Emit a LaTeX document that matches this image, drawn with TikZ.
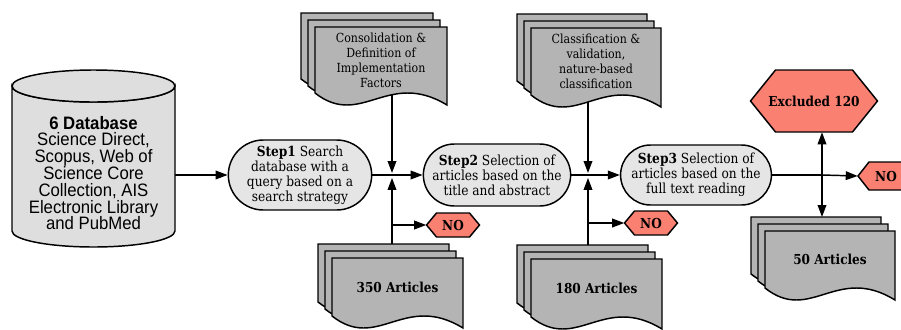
\documentclass[tikz,border=0pt]{standalone}
\usepackage{fontspec}
\setmainfont{DejaVu Serif}[FakeStretch=0.88]
\setsansfont{Liberation Sans}[FakeStretch=0.93]
\usepackage{xcolor}
\usetikzlibrary{calc,arrows.meta,shapes.misc,backgrounds}

\definecolor{docgray}{RGB}{180,180,180}
\definecolor{stepgray}{RGB}{229,229,229}
\definecolor{dbgray}{RGB}{222,222,222}
\definecolor{nosalmon}{RGB}{250,128,114}

\tikzset{
  flow/.style={line width=1.1pt,-{Triangle[length=9pt,width=6.5pt]}},
  link/.style={line width=1.1pt},
  docsheet/.style={draw,line width=1.1pt,fill=docgray},
  doctext/.style={font=\fontsize{9.4}{11.25}\selectfont,align=center,inner sep=0pt},
  stepbox/.style={rounded rectangle,draw,line width=1.1pt,fill=stepgray,align=center,
    font=\fontsize{10.4}{11.25}\selectfont,inner xsep=1pt,inner ysep=1pt},
  hexshape/.style={draw,line width=1.1pt,fill=nosalmon},
  hextext/.style={font=\bfseries\fontsize{10.3}{12}\selectfont,inner sep=0pt},
}

% stack of three sheets: name, x, y (front sheet top left), width, height, text
\newcommand{\docstack}[6]{%
  \foreach \lay in {2,1,0}{
    \draw[docsheet] ({#2-7*\lay},{#3-7*\lay}) -- ({#2-7*\lay+#4},{#3-7*\lay})
      -- ({#2-7*\lay+#4},{#3-7*\lay+#5+12})
      .. controls ({#2-7*\lay+0.55*#4},{#3-7*\lay+#5-24}) and ({#2-7*\lay+0.35*#4},{#3-7*\lay+#5+36})
      .. ({#2-7*\lay},{#3-7*\lay+#5}) -- cycle;
  }
  \node[doctext,minimum width=#4*0.75pt,minimum height=#5*0.75pt] (#1) at ({#2+#4/2},{#3+#5/2}) {#6};
  \coordinate (#1top) at ({#2+#4/2-7},{#3-14});
}

% hexagon: name, x, y (centre), width, height, inset, text
\newcommand{\hexnode}[7]{%
  \draw[hexshape] ({#2-#4/2},#3) -- ({#2-#4/2+#6},{#3-#5/2}) -- ({#2+#4/2-#6},{#3-#5/2})
    -- ({#2+#4/2},#3) -- ({#2+#4/2-#6},{#3+#5/2}) -- ({#2-#4/2+#6},{#3+#5/2}) -- cycle;
  \node[hextext,minimum width=#4*0.75pt,minimum height=#5*0.75pt] (#1) at (#2,#3) {#7};
}

\begin{document}
\begin{tikzpicture}[x=0.75pt,y=-0.75pt]
  \useasboundingbox (0,0) rectangle (901,329);

  % Database cylinder
  \draw[line width=1.1pt,fill=dbgray] (12,86) -- (12,231)
    arc[start angle=180,end angle=0,x radius=81.5,y radius=16] -- (175,86)
    arc[start angle=0,end angle=180,x radius=81.5,y radius=16] -- cycle;
  \draw[line width=1.1pt,fill=dbgray] (93.5,86) ellipse[x radius=81.5,y radius=16];
  \node[font=\sffamily\fontsize{13.5}{12.6}\selectfont,align=center,inner sep=0pt,
    minimum width=163*0.75pt] (db) at (93.5,173)
    {\textbf{6 Database}\\Science Direct,\\Scopus, Web of\\Science Core\\Collection, AIS\\Electronic Library\\and PubMed};

  % Steps
  \node[stepbox,minimum width=146*0.75pt,minimum height=70*0.75pt] (step1) at (300,175)
    {\textbf{Step1} Search\\database with a\\query based on a\\search strategy};
  \node[stepbox,minimum width=142*0.75pt,minimum height=62*0.75pt] (step2) at (497,175)
    {\textbf{Step2} Selection of\\articles based on the\\title and abstract};
  \node[stepbox,minimum width=145*0.75pt,minimum height=60*0.75pt] (step3) at (696,175)
    {\textbf{Step3} Selection of\\articles based on the\\full text reading};

  % Junctions
  \coordinate (j1) at (392,175);
  \coordinate (j2) at (588,175);
  \coordinate (j3) at (822,175);

  % Document stacks
  \docstack{cons}{315}{27}{132}{66}{Consolidation \&\\Definition of\\Implementation\\Factors}
  \docstack{clas}{531}{28}{130}{67}{Classification \&\\validation,\\nature-based\\classification}
  \docstack{art350}{332}{258}{131}{58}{\textbf{\fontsize{10.3}{12}\selectfont 350 Articles}}
  \docstack{art180}{531}{259}{131}{58}{\textbf{\fontsize{10.3}{12}\selectfont 180 Articles}}
  \docstack{art50}{765}{231}{130}{57}{\textbf{\fontsize{10.3}{12}\selectfont 50 Articles}}

  % Exclusions
  \hexnode{no1}{453}{225}{53}{24}{10}{NO}
  \hexnode{no2}{651}{223}{53}{24}{10}{NO}
  \hexnode{no3}{886}{176}{56}{28}{11}{NO}
  \hexnode{excl}{814}{101}{127}{62}{25}{Excluded 120}

  % Connectors
  \begin{scope}[on background layer]
    \draw[flow] (db.east |- step1.west) -- (step1.west);
    \draw[link] (step1.east) -- (j1);
    \draw[flow,shorten >=1.5pt] (cons.center -| j1) -- (j1);
    \draw[flow,shorten >=2.2pt] (art350.center -| j1) -- (j1);
    \draw[flow] (j1) -- (step2.west);
    \draw[flow] (no1.west -| j1) -- (no1.west);

    \draw[link] (step2.east) -- (j2);
    \draw[flow,shorten >=1.5pt] (clas.center -| j2) -- (j2);
    \draw[flow,shorten >=2.2pt] (art180.center -| j2) -- (j2);
    \draw[flow] (j2) -- (step3.west);
    \draw[flow] (no2.west -| j2) -- (no2.west);

    \draw[link] (step3.east) -- (j3);
    \draw[flow] (j3) -- (no3.west);
    \draw[flow] (j3) -- (j3 |- excl.south);
    \draw[flow] (j3) -- (j3 |- art50top);
  \end{scope}
\end{tikzpicture}
\end{document}
